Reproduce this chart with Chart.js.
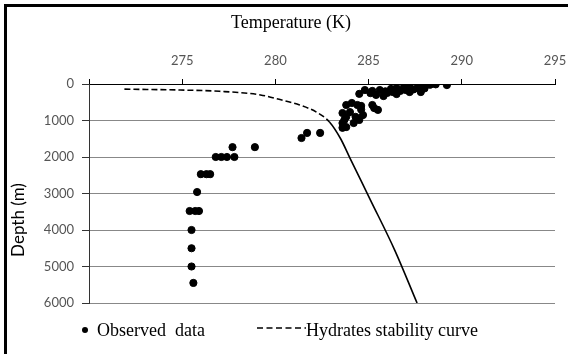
<!DOCTYPE html>
<html lang="en">
<head>
    <meta charset="UTF-8">
    <title>Temperature vs Depth</title>
    <script src="https://cdn.jsdelivr.net/npm/chart.js"></script>
    <style>
      html, body { margin: 0; padding: 0; background: #fff; overflow: hidden; }
    </style>
</head>
<body>
    <canvas id="depthChart" width="568" height="354"></canvas>

    <script>
      // Observed temperature (K) and depth (m)
      const obsTemp = [
        284.5, 284.8, 285.1, 285.2, 285.4, 285.6, 285.8, 285.9, 286.0, 286.2, 286.3, 286.5, 286.5, 286.7,
        286.9, 287.0, 287.2, 287.2, 287.4, 287.6, 287.8, 287.9, 288.0, 288.3, 288.6, 289.2,
        283.8, 284.1, 284.4, 284.6, 285.2, 285.3, 285.5, 283.6, 284.0, 283.8, 284.3, 283.7, 284.5,
        283.6, 284.2, 283.8, 283.6, 284.7, 284.6,
        281.4, 281.7, 282.4, 277.7, 278.9,
        276.8, 277.1, 277.4, 277.8, 276.0, 276.3, 276.5, 275.8,
        275.4, 275.7, 275.9, 275.5, 275.5, 275.5, 275.6
      ];
      const obsDepth = [
        270, 165, 250, 190, 300, 165, 330, 200, 245, 135, 220, 110, 275, 190,
        80, 165, 80, 220, 150, 110, 220, 30, 120, 20, 10, 30,
        575, 520, 575, 600, 575, 660, 710, 795, 770, 900, 900, 985, 985,
        1070, 1070, 1180, 1200, 850, 700,
        1480, 1340, 1340, 1730, 1730,
        2000, 2000, 2000, 2000, 2470, 2470, 2470, 2960,
        3480, 3480, 3480, 4000, 4500, 5000, 5450
      ];

      // Hydrates stability curve
      const curveTemp = [271.9, 274.9, 277.0, 279.2, 280.2, 281.3, 282.2, 282.9, 283.5, 284.0, 285.1, 286.4, 287.6];
      const curveDepth = [140, 165, 200, 300, 420, 575, 770, 1040, 1500, 2030, 3180, 4550, 6000];

      const tempTicks = [275, 280, 285, 290, 295];
      const depthTicks = [0, 1000, 2000, 3000, 4000, 5000, 6000];

      const labelFont = "Lato, 'Open Sans', sans-serif";
      const serifFont = "'Liberation Serif', 'DejaVu Serif', serif";

      // extra texts, frame and legend
      const decorations = {
        id: 'decorations',
        beforeDraw(chart) {
          const c = chart.ctx;
          c.save();
          c.fillStyle = '#fff';
          c.fillRect(0, 0, chart.width, chart.height);
          c.restore();
        },
        afterDraw(chart) {
          const c = chart.ctx;
          c.save();
          c.fillStyle = '#000';
          c.fillRect(4, 4, 564, 3);
          c.fillRect(4, 4, 3, 350);

          c.font = '18px ' + serifFont;
          c.textAlign = 'center';
          c.textBaseline = 'middle';
          c.fillText('Temperature (K)', 291, 23);

          c.save();
          c.translate(19, 220);
          c.rotate(-Math.PI / 2);
          c.font = '17px ' + labelFont;
          c.fillText('Depth (m)', 0, 0);
          c.restore();

          // legend
          c.beginPath();
          c.arc(85, 330, 3, 0, Math.PI * 2);
          c.fill();
          c.font = '18px ' + serifFont;
          c.textAlign = 'left';
          c.fillText('Observed  data', 97, 331);
          c.strokeStyle = '#000';
          c.lineWidth = 1.5;
          c.setLineDash([6, 3.5]);
          c.beginPath();
          c.moveTo(257, 328);
          c.lineTo(306, 328);
          c.stroke();
          c.setLineDash([]);
          c.fillText('Hydrates stability curve', 306, 331);
          c.restore();
        }
      };

      new Chart(document.getElementById('depthChart'), {
        type: 'scatter',
        data: {
          datasets: [
            {
              label: 'Observed  data',
              data: obsTemp.map((t, i) => ({ x: t, y: obsDepth[i] })),
              backgroundColor: '#000',
              borderColor: '#000',
              pointRadius: 3.6,
              pointHoverRadius: 3.6
            },
            {
              label: 'Hydrates stability curve',
              data: curveTemp.map((t, i) => ({ x: t, y: curveDepth[i] })),
              showLine: true,
              borderColor: '#000',
              borderWidth: 1.6,
              pointRadius: 0,
              tension: 0.4,
              cubicInterpolationMode: 'monotone',
              segment: {
                borderDash: ctx => ctx.p1.parsed.y <= 1100 ? [6, 3] : undefined
              }
            }
          ]
        },
        options: {
          responsive: false,
          devicePixelRatio: 1,
          animation: false,
          layout: { padding: { left: 0, top: 0, right: 13, bottom: 51 } },
          plugins: {
            legend: { display: false },
            tooltip: { enabled: false }
          },
          scales: {
            x: {
              type: 'linear',
              position: 'top',
              min: 270,
              max: 295,
              afterFit: s => { s.height = 84; s.paddingRight = 0; },
              afterBuildTicks: s => { s.ticks = [270].concat(tempTicks).map(v => ({ value: v })); },
              ticks: {
                callback: v => tempTicks.includes(v) ? v : '',
                color: '#555',
                font: { family: labelFont, size: 13 },
                padding: 10,
                maxRotation: 0
              },
              grid: { drawOnChartArea: false, tickLength: 5, tickColor: '#000' },
              border: { color: '#000', width: 1 }
            },
            y: {
              type: 'linear',
              reverse: true,
              min: 0,
              max: 6000,
              afterFit: s => { s.width = 89; },
              afterBuildTicks: s => { s.ticks = depthTicks.map(v => ({ value: v })); },
              ticks: {
                callback: v => String(v),
                color: '#555',
                font: { family: labelFont, size: 13 },
                padding: 8
              },
              grid: {
                color: ctx => ctx.tick && ctx.tick.value === 0 ? 'rgba(0,0,0,0)' : '#888',
                lineWidth: 1,
                tickLength: 7,
                tickColor: '#333'
              },
              border: { color: '#333', width: 1 }
            }
          }
        },
        plugins: [decorations]
      });
    </script>
</body>
</html>
